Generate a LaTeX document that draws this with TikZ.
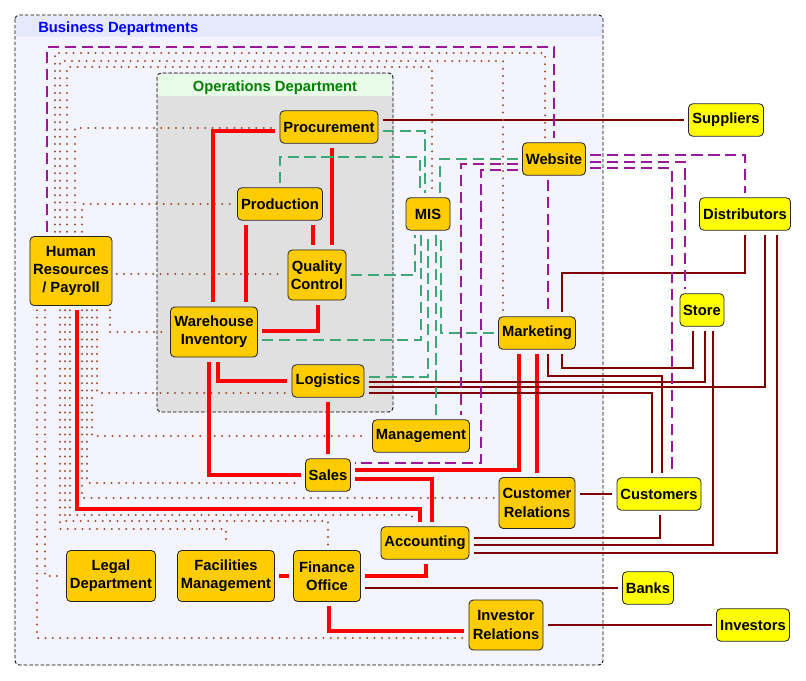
\documentclass[tikz,border=0pt]{standalone}
\usepackage{fontspec}
\setmainfont{Liberation Sans}
\definecolor{gold}{HTML}{FFCC00}
\definecolor{extyellow}{HTML}{FFFF00}
\definecolor{bizbody}{HTML}{F4F4FE}
\definecolor{bizhead}{HTML}{E6E8FB}
\definecolor{opsbody}{HTML}{E0E0E0}
\definecolor{opshead}{HTML}{E8FCE8}
\definecolor{darkred}{HTML}{800000}
\definecolor{misgreen}{HTML}{3FA878}
\definecolor{webpurple}{HTML}{99199A}
\definecolor{hrbrown}{HTML}{A0522D}

\begin{document}
\begin{tikzpicture}[x=0.025cm, y=-0.025cm,
  dept/.style={draw=black!85, line width=0.6pt, rounded corners=3pt, fill=gold, align=center, inner sep=0pt, minimum height=0.81cm, font=\bfseries\fontsize{10.5}{13}\selectfont},
  ext/.style={dept, fill=extyellow},
  frame/.style={draw=black, line width=0.6pt, dash pattern=on 2.5pt off 1.5pt, rounded corners=3pt},
  link/.style={shorten <=3pt, shorten >=3pt},
  opslink/.style={link, red, line width=2.8pt},
  extlink/.style={link, darkred, line width=2pt},
  mislink/.style={link, misgreen, line width=1.4pt, dash pattern=on 8pt off 4pt},
  weblink/.style={link, webpurple, line width=1.4pt, dash pattern=on 8pt off 4pt},
  hrlink/.style={link, hrbrown, line width=1.6pt, line cap=round, dash pattern=on 0pt off 5.2pt}]
\useasboundingbox (0,0) rectangle (806,681);

% business departments frame
\fill[bizbody, rounded corners=3pt] (15,15) rectangle (603,665);
\fill[bizhead] (16,16) rectangle (602,37);
\draw[frame] (15,15) rectangle (603,665);
\node[anchor=west, inner sep=0pt, text=blue, font=\bfseries\fontsize{10.5}{13}\selectfont] (biztitle) at (38,29) {Business Departments};

% operations department frame
\fill[opsbody, rounded corners=3pt] (157,73) rectangle (393,412);
\fill[opshead] (158,74) rectangle (392,96);
\draw[frame] (157,73) rectangle (393,412);
\node[inner sep=0pt, text=green!50!black, font=\bfseries\fontsize{10.5}{13}\selectfont] (opstitle) at (275,88) {Operations Department};

% departments
\node[dept, minimum width=2.45cm] (proc) at (329,127) {Procurement};
\node[dept, minimum width=2.125cm] (prod) at (280,204) {Production};
\node[dept, minimum width=1.45cm, minimum height=1.25cm] (qc) at (317,275) {Quality\\Control};
\node[dept, minimum width=2.175cm, minimum height=1.25cm] (warh) at (214,332) {Warehouse\\Inventory};
\node[dept, minimum width=1.8cm] (logi) at (328,381) {Logistics};
\node[dept, minimum width=1.1cm] (mis) at (428,214) {MIS};
\node[dept, minimum width=1.575cm] (web) at (554,159) {Website};
\node[dept, minimum width=1.925cm] (mkt) at (537,333) {Marketing};
\node[dept, minimum width=2.425cm] (mgmt) at (421,436) {Management};
\node[dept, minimum width=1.125cm] (sales) at (328,475) {Sales};
\node[dept, minimum width=1.9cm, minimum height=1.275cm] (cr) at (537,503) {Customer\\Relations};
\node[dept, minimum width=2.2cm] (acct) at (425,543) {Accounting};
\node[dept, minimum width=1.675cm, minimum height=1.275cm] (fin) at (327,576) {Finance\\Office};
\node[dept, minimum width=2.425cm, minimum height=1.275cm] (fac) at (226,576) {Facilities\\Management};
\node[dept, minimum width=2.225cm, minimum height=1.275cm] (legal) at (111,576) {Legal\\Department};
\node[dept, minimum width=1.85cm, minimum height=1.25cm] (ir) at (506,625) {Investor\\Relations};
\node[dept, minimum width=2.05cm, minimum height=1.725cm] (hr) at (71,271) {Human\\Resources\\/ Payroll};

% outside parties
\node[ext, minimum width=1.875cm] (sup) at (726,120) {Suppliers};
\node[ext, minimum width=2.275cm] (dist) at (745,214) {Distributors};
\node[ext, minimum width=1.1cm] (store) at (702,310) {Store};
\node[ext, minimum width=2.1cm] (cust) at (659,494) {Customers};
\node[ext, minimum width=1.275cm] (bank) at (648,588) {Banks};
\node[ext, minimum width=1.825cm] (inv) at (753,625) {Investors};

% internal flows
\draw[opslink] (proc.west |- 0,131) -| (213,0 |- warh.north);
\draw[opslink] (246,0 |- prod.south) -- (246,0 |- warh.north);
\draw[opslink] (332,0 |- proc.south) -- (332,0 |- qc.north);
\draw[opslink] (313,0 |- prod.south) -- (313,0 |- qc.north);
\draw[opslink] (318,0 |- qc.south) |- (warh.east |- 0,331);
\draw[opslink] (218,0 |- warh.south) |- (logi.west);
\draw[opslink] (209,0 |- warh.south) |- (sales.west);
\draw[opslink] (77,0 |- hr.south) -- (77,509) -| (420,0 |- acct.north);
\draw[opslink] (sales.east |- 0,479) -| (432,0 |- acct.north);
\draw[opslink] (sales.east |- 0,470) -| (519,0 |- mkt.south);
\draw[opslink] (426,0 |- acct.south) |- (fin.east);
\draw[opslink] (329,0 |- fin.south) |- (ir.west |- 0,631);
\foreach \a/\b in {fac/fin, logi/sales, mkt/cr} \draw[opslink] (\a) -- (\b);

% outside flows
\draw[extlink] (proc.east |- sup.west) -- (sup.west);
\draw[extlink] (fin.east |- bank.west) -- (bank.west);
\draw[extlink] (cr.east |- cust.west) -- (cust.west);
\draw[extlink] (ir) -- (inv);
\draw[extlink] (acct.east |- 0,538) -| (660,0 |- cust.south);
\draw[extlink] (acct.east |- 0,545) -| (713,0 |- store.south);
\draw[extlink] (acct.east |- 0,553) -| (777,0 |- dist.south);
\draw[extlink] (562,0 |- mkt.north) -- (562,273) -| (745,0 |- dist.south);
\draw[extlink] (562,0 |- mkt.south) -- (562,368) -| (693,0 |- store.south);
\draw[extlink] (548,0 |- mkt.south) -- (548,376) -| (662,0 |- cust.north);
\draw[extlink] (logi.east |- 0,382) -| (705,0 |- store.south);
\draw[extlink] (logi.east |- 0,387) -| (765,0 |- dist.south);
\draw[extlink] (logi.east |- 0,393) -| (652,0 |- cust.north);

% MIS
\draw[mislink] (proc.east |- 0,131) -| (425,0 |- mis.north);
\draw[mislink] (prod.north) -- (280,157) -| (420,0 |- mis.north);
\draw[mislink] (web.west) -| (440,0 |- mis.north);
\draw[mislink] (qc.east) -| (415,0 |- mis.south);
\draw[mislink] (warh.east |- 0,340) -| (421,0 |- mis.south);
\draw[mislink] (logi.east |- 0,377) -| (428,0 |- mis.south);
\draw[mislink] (436,0 |- mgmt.north) -- (436,0 |- mis.south);
\draw[mislink] (mkt.west) -| (441,0 |- mis.south);

% website
\draw[weblink] (47,0 |- hr.north) -- (47,47) -| (web.north);
\draw[weblink] (web.east |- 0,155) -| (dist.north);
\draw[weblink] (web.east |- 0,162) -| (685,0 |- store.north);
\draw[weblink] (web.east |- 0,168) -| (672,0 |- cust.north);
\draw[weblink] (548,0 |- web.south) -- (548,0 |- mkt.north);
\draw[weblink] (web.west |- 0,164) -| (461,0 |- mgmt.north);
\draw[weblink] (web.west |- 0,170) -| (481,463) -- (sales.east |- 0,463);

% human resources
\draw[hrlink] (55,0 |- hr.north) -- (55,53) -| (545,0 |- web.north);
\draw[hrlink] (60,0 |- hr.north) -- (60,61) -| (503,0 |- mkt.north);
\draw[hrlink] (67,0 |- hr.north) -- (67,67) -| (432,0 |- mis.north);
\draw[hrlink] (75,0 |- hr.north) |- (proc.west |- 0,128);
\draw[hrlink] (82,0 |- hr.north) |- (prod.west);
\draw[hrlink] (hr.east |- 0,274) -- (qc.west |- 0,274);
\foreach \x/\t in {110/warh, 92/mgmt, 45/legal} \draw[hrlink] (\x,0 |- hr.south) |- (\t.west);
\draw[hrlink] (97,0 |- hr.south) |- (logi.west |- 0,393);
\draw[hrlink] (87,0 |- hr.south) |- (sales.west |- 0,483);
\draw[hrlink] (82,0 |- hr.south) |- (cr.west |- 0,498);
\draw[hrlink] (70,0 |- hr.south) -- (70,515) -| (412,0 |- acct.north);
\draw[hrlink] (65,0 |- hr.south) -- (65,521) -| (328,0 |- fin.north);
\draw[hrlink] (60,0 |- hr.south) -- (60,529) -| (226,0 |- fac.north);
\draw[hrlink] (37,0 |- hr.south) |- (ir.west |- 0,638);
\end{tikzpicture}
\end{document}
